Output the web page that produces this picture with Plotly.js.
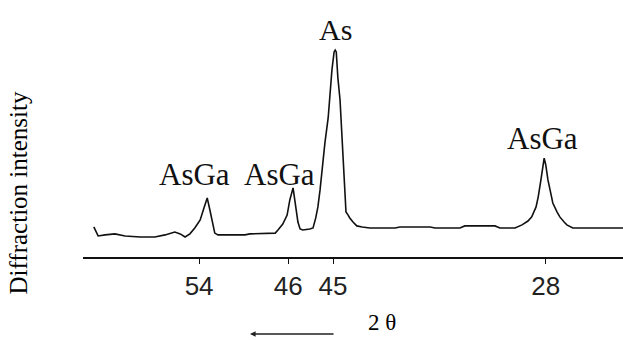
<!DOCTYPE html>
<html>
<head>
<meta charset="utf-8">
<script src="https://cdn.plot.ly/plotly-3.0.1.min.js"></script>
<style>html,body{margin:0;padding:0;background:#fff;}#chart{width:623px;height:340px;}</style>
</head>
<body>
<div id="chart"></div>
<script>
// Scan position along the (schematic, non-linear) 2θ axis, 0..100
const scanPos = [2.0, 2.8, 4.1, 5.9, 7.8, 10.6, 13.3, 15.2, 17.0, 18.0, 18.9, 19.8, 20.7, 21.7, 22.4, 23.0, 23.5, 24.1, 24.4, 25.0, 27.2, 30.0, 30.9, 33.7, 35.6, 36.1, 37.0, 37.8, 38.3, 38.9, 39.4, 39.8, 40.2, 40.7, 42.0, 42.6, 43.1, 43.5, 43.9, 44.4, 44.8, 45.4, 45.7, 46.1, 46.5, 46.7, 46.9, 47.2, 47.6, 48.0, 48.3, 48.5, 48.7, 49.1, 49.4, 50.0, 50.7, 51.7, 53.1, 57.8, 58.7, 64.3, 65.2, 69.8, 70.7, 76.3, 77.2, 80.0, 81.3, 82.4, 83.1, 83.9, 84.3, 84.8, 85.4, 85.7, 86.1, 86.7, 87.0, 87.8, 88.3, 89.1, 89.6, 90.7, 95.7, 100.0];
// Diffraction intensity (arbitrary units)
const intensity = [11.7, 8.2, 8.6, 9.0, 8.2, 7.8, 7.8, 8.6, 9.7, 9.0, 7.8, 9.0, 11.3, 14.4, 19.1, 23.0, 18.3, 12.5, 9.3, 8.6, 8.6, 8.6, 9.0, 9.3, 9.3, 10.5, 12.8, 16.3, 22.2, 26.9, 20.2, 13.6, 10.9, 10.5, 10.9, 11.3, 15.2, 19.5, 26.1, 37.0, 44.4, 54.1, 62.3, 72.8, 79.8, 80.5, 79.8, 69.7, 61.1, 45.5, 31.9, 26.1, 17.5, 16.3, 15.2, 13.6, 12.1, 11.7, 11.3, 11.3, 11.7, 11.7, 11.3, 11.3, 12.1, 12.1, 11.3, 11.3, 12.5, 14.0, 15.6, 19.5, 23.4, 30.0, 38.5, 35.8, 30.0, 24.1, 21.0, 17.5, 15.6, 13.6, 12.5, 11.3, 11.3, 11.3];
// 2θ tick labels and their scan positions
const tickPos = [21.5, 38.0, 46.3, 85.7];
const tickText = ['54', '46', '45', '28'];
// Peak labels
const peakLabels = ['AsGa', 'AsGa', 'As', 'AsGa'];
const peakLabelX = [20.7, 36.3, 46.7, 85.0];
const peakLabelY = [32.0, 32.0, 88.5, 46.0];
const peakLabelSize = [31, 31, 30, 31];

const serif = 'Liberation Serif, Times New Roman, serif';
const annotations = peakLabels.map((t, i) => ({
  x: peakLabelX[i], y: peakLabelY[i], xref: 'x', yref: 'y',
  text: t, showarrow: false, xanchor: 'center', yanchor: 'middle',
  font: {family: serif, size: peakLabelSize[i], color: '#111'}
}));
annotations.push({
  x: -0.1185, y: 0.247, xref: 'paper', yref: 'paper', text: 'Diffraction intensity',
  textangle: -90, showarrow: false, xanchor: 'center', yanchor: 'middle',
  font: {family: serif, size: 25, color: '#000'}
});
annotations.push({
  x: 0.5537, y: -0.253, xref: 'paper', yref: 'paper', text: '2 θ', showarrow: false,
  xanchor: 'center', yanchor: 'middle', font: {family: serif, size: 23, color: '#000'}
});
annotations.push({
  x: 0.3093, y: -0.2996, xref: 'paper', yref: 'paper', text: '', showarrow: true,
  axref: 'pixel', ayref: 'pixel', ax: 85, ay: 0,
  arrowhead: 2, arrowsize: 0.8, arrowwidth: 1.4, arrowcolor: '#222', standoff: 0
});

const trace = {
  x: scanPos, y: intensity, type: 'scatter', mode: 'lines',
  line: {color: '#111', width: 1.6}, hoverinfo: 'skip'
};

const layout = {
  width: 623, height: 340,
  margin: {l: 83, r: 0, t: 0, b: 83},
  paper_bgcolor: '#fff', plot_bgcolor: '#fff',
  showlegend: false,
  xaxis: {
    range: [0, 100], showgrid: false, zeroline: false,
    showline: true, linecolor: '#111', linewidth: 2,
    ticks: 'outside', ticklen: 5, tickwidth: 1, tickcolor: '#111',
    tickmode: 'array', tickvals: tickPos, ticktext: tickText,
    tickfont: {family: 'Liberation Sans, Arial, sans-serif', size: 26, color: '#222'},
    ticklabelstandoff: 0
  },
  yaxis: {
    range: [0, 100], showgrid: false, zeroline: false, showline: false,
    showticklabels: false, ticks: ''
  },
  annotations: annotations
};

Plotly.newPlot('chart', [trace], layout, {displayModeBar: false, staticPlot: true});
</script>
</body>
</html>
